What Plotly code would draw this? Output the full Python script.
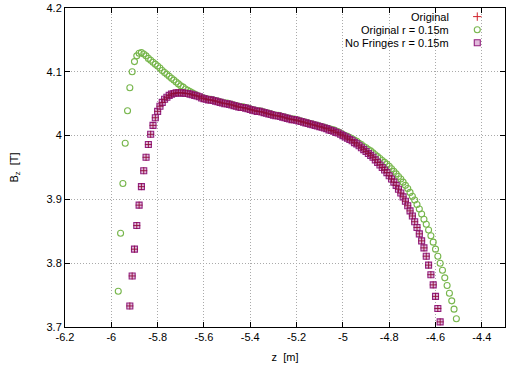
import plotly.graph_objects as go

# ---------------- data ----------------
# "Original r = 0.15m" (green circles)
orig_r_z = [
    -5.97, -5.96, -5.95, -5.94, -5.93, -5.92, -5.91, -5.90, -5.89, -5.88,
    -5.87, -5.86, -5.85, -5.84, -5.83, -5.82, -5.81, -5.80, -5.79, -5.78,
    -5.77, -5.76, -5.75, -5.74, -5.73, -5.72, -5.71, -5.70, -5.69, -5.68,
    -5.67, -5.66, -5.65, -5.64, -5.63, -5.62, -5.61, -5.60, -5.59, -5.58,
    -5.57, -5.56, -5.55, -5.54, -5.53, -5.52, -5.51, -5.50, -5.49, -5.48,
    -5.47, -5.46, -5.45, -5.44, -5.43, -5.42, -5.41, -5.40, -5.39, -5.38,
    -5.37, -5.36, -5.35, -5.34, -5.33, -5.32, -5.31, -5.30, -5.29, -5.28,
    -5.27, -5.26, -5.25, -5.24, -5.23, -5.22, -5.21, -5.20, -5.19, -5.18,
    -5.17, -5.16, -5.15, -5.14, -5.13, -5.12, -5.11, -5.10, -5.09, -5.08,
    -5.07, -5.06, -5.05, -5.04, -5.03, -5.02, -5.01, -5.00, -4.99, -4.98,
    -4.97, -4.96, -4.95, -4.94, -4.93, -4.92, -4.91, -4.90, -4.89, -4.88,
    -4.87, -4.86, -4.85, -4.84, -4.83, -4.82, -4.81, -4.80, -4.79, -4.78,
    -4.77, -4.76, -4.75, -4.74, -4.73, -4.72, -4.71, -4.70, -4.69, -4.68,
    -4.67, -4.66, -4.65, -4.64, -4.63, -4.62, -4.61, -4.60, -4.59, -4.58,
    -4.57, -4.56, -4.55, -4.54, -4.53, -4.52, -4.51,
]
orig_r_b = [
    3.756, 3.847, 3.925, 3.988, 4.039, 4.075, 4.100, 4.116, 4.125, 4.129,
    4.130, 4.128, 4.125, 4.121, 4.118, 4.115, 4.112, 4.109, 4.106, 4.102,
    4.099, 4.096, 4.093, 4.090, 4.087, 4.084, 4.081, 4.078, 4.076, 4.073,
    4.071, 4.069, 4.067, 4.065, 4.063, 4.061, 4.060, 4.059, 4.058, 4.057,
    4.057, 4.056, 4.055, 4.054, 4.053, 4.052, 4.051, 4.051, 4.050, 4.049,
    4.048, 4.047, 4.046, 4.045, 4.045, 4.044, 4.043, 4.042, 4.041, 4.040,
    4.039, 4.039, 4.038, 4.037, 4.036, 4.035, 4.034, 4.033, 4.032, 4.032,
    4.031, 4.030, 4.029, 4.028, 4.027, 4.026, 4.026, 4.025, 4.024, 4.023,
    4.022, 4.021, 4.020, 4.019, 4.018, 4.017, 4.016, 4.015, 4.014, 4.013,
    4.012, 4.011, 4.010, 4.009, 4.007, 4.006, 4.004, 4.002, 4.000, 3.999,
    3.997, 3.995, 3.993, 3.991, 3.988, 3.986, 3.983, 3.981, 3.978, 3.976,
    3.973, 3.970, 3.967, 3.964, 3.961, 3.958, 3.955, 3.952, 3.948, 3.944,
    3.940, 3.936, 3.932, 3.927, 3.922, 3.917, 3.911, 3.905, 3.899, 3.892,
    3.885, 3.877, 3.869, 3.861, 3.852, 3.843, 3.833, 3.822, 3.811, 3.800,
    3.789, 3.777, 3.765, 3.753, 3.741, 3.728, 3.713,
]

# "No Fringes r = 0.15m" (purple squares)
nofr_z = [
    -5.92, -5.91, -5.90, -5.89, -5.88, -5.87, -5.86, -5.85, -5.84, -5.83,
    -5.82, -5.81, -5.80, -5.79, -5.78, -5.77, -5.76, -5.75, -5.74, -5.73,
    -5.72, -5.71, -5.70, -5.69, -5.68, -5.67, -5.66, -5.65, -5.64, -5.63,
    -5.62, -5.61, -5.60, -5.59, -5.58, -5.57, -5.56, -5.55, -5.54, -5.53,
    -5.52, -5.51, -5.50, -5.49, -5.48, -5.47, -5.46, -5.45, -5.44, -5.43,
    -5.42, -5.41, -5.40, -5.39, -5.38, -5.37, -5.36, -5.35, -5.34, -5.33,
    -5.32, -5.31, -5.30, -5.29, -5.28, -5.27, -5.26, -5.25, -5.24, -5.23,
    -5.22, -5.21, -5.20, -5.19, -5.18, -5.17, -5.16, -5.15, -5.14, -5.13,
    -5.12, -5.11, -5.10, -5.09, -5.08, -5.07, -5.06, -5.05, -5.04, -5.03,
    -5.02, -5.01, -5.00, -4.99, -4.98, -4.97, -4.96, -4.95, -4.94, -4.93,
    -4.92, -4.91, -4.90, -4.89, -4.88, -4.87, -4.86, -4.85, -4.84, -4.83,
    -4.82, -4.81, -4.80, -4.79, -4.78, -4.77, -4.76, -4.75, -4.74, -4.73,
    -4.72, -4.71, -4.70, -4.69, -4.68, -4.67, -4.66, -4.65, -4.64, -4.63,
    -4.62, -4.61, -4.60, -4.59, -4.58,
]
nofr_b = [
    3.733, 3.780, 3.822, 3.859, 3.891, 3.920, 3.945, 3.966, 3.986, 4.002,
    4.016, 4.028, 4.038, 4.046, 4.052, 4.057, 4.060, 4.063, 4.065, 4.066,
    4.067, 4.067, 4.067, 4.067, 4.066, 4.066, 4.065, 4.064, 4.063, 4.062,
    4.061, 4.059, 4.058, 4.057, 4.056, 4.056, 4.055, 4.054, 4.053, 4.052,
    4.051, 4.050, 4.050, 4.049, 4.048, 4.047, 4.046, 4.045, 4.044, 4.044,
    4.043, 4.042, 4.041, 4.040, 4.039, 4.038, 4.038, 4.037, 4.036, 4.035,
    4.034, 4.033, 4.032, 4.031, 4.031, 4.030, 4.029, 4.028, 4.027, 4.026,
    4.025, 4.025, 4.024, 4.023, 4.022, 4.021, 4.020, 4.019, 4.018, 4.017,
    4.016, 4.015, 4.014, 4.013, 4.012, 4.011, 4.009, 4.008, 4.007, 4.005,
    4.004, 4.002, 4.000, 3.998, 3.996, 3.994, 3.992, 3.989, 3.987, 3.984,
    3.981, 3.978, 3.975, 3.972, 3.969, 3.966, 3.962, 3.958, 3.954, 3.950,
    3.946, 3.942, 3.937, 3.932, 3.927, 3.922, 3.916, 3.910, 3.904, 3.897,
    3.890, 3.882, 3.874, 3.865, 3.856, 3.846, 3.835, 3.824, 3.811, 3.797,
    3.782, 3.766, 3.748, 3.729, 3.708,
]

# "Original" (red plus) coincides with the No Fringes points
orig_z = list(nofr_z)
orig_b = list(nofr_b)

legend_labels = ["Original", "Original r = 0.15m", "No Fringes r = 0.15m"]

x_tickvals = [-6.2, -6.0, -5.8, -5.6, -5.4, -5.2, -5.0, -4.8, -4.6, -4.4]
x_ticktext = ["-6.2", "-6", "-5.8", "-5.6", "-5.4", "-5.2", "-5", "-4.8", "-4.6", "-4.4"]
y_tickvals = [3.7, 3.8, 3.9, 4.0, 4.1, 4.2]
y_ticktext = ["3.7", "3.8", "3.9", "4", "4.1", "4.2"]

assert len(orig_r_z) == len(orig_r_b)
assert len(nofr_z) == len(nofr_b)

# ---------------- styles ----------------
GREEN = "#77b64c"
PURPLE = "#92207f"
PURPLE_FILL = "rgba(205,140,195,0.6)"
RED = "#8e0a3a"
FONT = "Liberation Sans, Arial, sans-serif"

fig = go.Figure()

fig.add_trace(go.Scatter(
    x=orig_r_z, y=orig_r_b, mode="markers", name=legend_labels[1],
    marker=dict(symbol="circle-open", size=6, color=GREEN, line=dict(width=1.1, color=GREEN)),
    showlegend=False))
fig.add_trace(go.Scatter(
    x=nofr_z, y=nofr_b, mode="markers", name=legend_labels[2],
    marker=dict(symbol="square", size=6, color=PURPLE_FILL, line=dict(width=1.1, color=PURPLE)),
    showlegend=False))
fig.add_trace(go.Scatter(
    x=orig_z, y=orig_b, mode="markers", name=legend_labels[0],
    marker=dict(symbol="cross-thin-open", size=5, color=RED, line=dict(width=0.9, color=RED)),
    showlegend=False))

# custom gnuplot-style key: text right-aligned, sample to the right
key_rows = [0.973, 0.932, 0.891]
key_x_text = 0.877
key_x_mark = 0.937
key_styles = [
    dict(symbol="cross-thin-open", size=6, color="#d0202a", line=dict(width=1, color="#d0202a")),
    dict(symbol="circle-open", size=6, color=GREEN, line=dict(width=1.1, color=GREEN)),
    dict(symbol="square", size=6, color=PURPLE_FILL, line=dict(width=1.1, color=PURPLE)),
]
for i, lab in enumerate(legend_labels):
    fig.add_trace(go.Scatter(
        x=[key_x_mark], y=[key_rows[i]], mode="markers", marker=key_styles[i],
        xaxis="x2", yaxis="y2", showlegend=False, hoverinfo="skip"))
    fig.add_annotation(
        x=key_x_text, y=key_rows[i], xref="paper", yref="paper",
        text=lab, showarrow=False, xanchor="right", yanchor="middle",
        font=dict(family=FONT, size=11, color="black"))

axis_common = dict(
    showline=True, linecolor="black", linewidth=1, mirror="ticks",
    ticks="inside", ticklen=5, tickcolor="black", tickwidth=1,
    showgrid=True, gridcolor="#aaaaaa", griddash="1px,2px", gridwidth=1,
    zeroline=False, tickfont=dict(family=FONT, size=11, color="black"),
)

fig.update_layout(
    width=508, height=365,
    margin=dict(l=65, r=3, t=8, b=38),
    paper_bgcolor="white", plot_bgcolor="white",
    font=dict(family=FONT, size=11, color="black"),
    showlegend=False,
    xaxis=dict(range=[-6.2, -4.3], tickmode="array", tickvals=x_tickvals, ticktext=x_ticktext,
               title=dict(text="z  [m]", standoff=11, font=dict(family=FONT, size=11)),
               **axis_common),
    yaxis=dict(range=[3.7, 4.2], tickmode="array", tickvals=y_tickvals, ticktext=y_ticktext,
               title=dict(text="B<sub>z</sub>  [T]", standoff=25, font=dict(family=FONT, size=11)),
               **axis_common),
    xaxis2=dict(overlaying="x", range=[0, 1], visible=False, fixedrange=True),
    yaxis2=dict(overlaying="y", range=[0, 1], visible=False, fixedrange=True),
)

fig.write_html("out.html", config={"displayModeBar": False},
               post_script="document.body.style.margin='0';")
